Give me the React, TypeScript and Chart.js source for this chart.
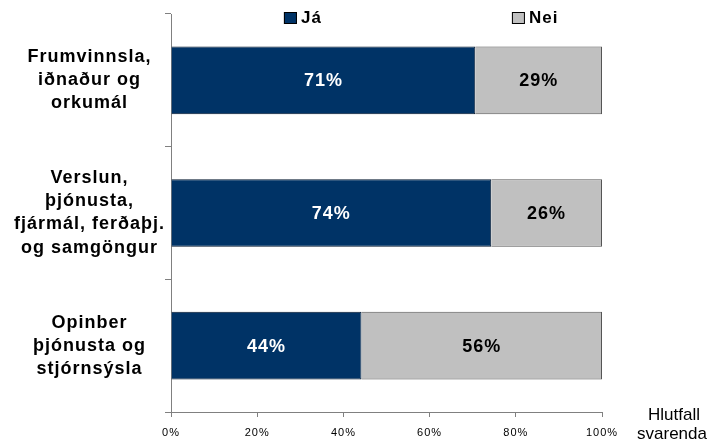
import React, { useEffect, useRef } from "react";
import { Chart, registerables } from "chart.js";

Chart.register(...registerables);

const categories: string[][] = [
  ["Frumvinnsla,", "iðnaður og", "orkumál"],
  ["Verslun,", "þjónusta,", "fjármál, ferðaþj.", "og samgöngur"],
  ["Opinber", "þjónusta og", "stjórnsýsla"],
];
const jaValues: number[] = [70.6, 74.3, 44.2];
const neiValues: number[] = [29.4, 25.7, 55.8];
const seriesNames: string[] = ["Já", "Nei"];
const xTickValues: number[] = [0, 20, 40, 60, 80, 100];
const axisTitleLines: string[] = ["Hlutfall", "svarenda"];

const FONT = "'Liberation Sans', Arial, Helvetica, sans-serif";
const JA_COLOR = "#003366";
const JA_BORDER = "#00152b";
const NEI_COLOR = "#c0c0c0";
const NEI_BORDER = "#555555";
const AXIS_COLOR = "#808080";

const setSpacing = (chart: any) => {
  try {
    (chart.ctx as any).letterSpacing = "1px";
  } catch (e) {
    /* ignore */
  }
};

const customPlugin = {
  id: "customDraw",
  beforeUpdate(chart: any) {
    setSpacing(chart);
  },
  beforeLayout(chart: any) {
    setSpacing(chart);
  },
  beforeDraw(chart: any) {
    setSpacing(chart);
  },
  afterDatasetsDraw(chart: any) {
    const ctx = chart.ctx;
    const area = chart.chartArea;
    // data labels
    ctx.save();
    ctx.font = `bold 18px ${FONT}`;
    ctx.textAlign = "center";
    ctx.textBaseline = "middle";
    chart.data.datasets.forEach((ds: any, di: number) => {
      const meta = chart.getDatasetMeta(di);
      meta.data.forEach((bar: any, i: number) => {
        const v = ds.data[i] as number;
        const left = Math.min(bar.x, bar.base);
        const right = Math.max(bar.x, bar.base);
        ctx.fillStyle = di === 0 ? "#ffffff" : "#000000";
        ctx.fillText(`${Math.round(v)}%`, (left + right) / 2, bar.y + 1);
      });
    });
    ctx.restore();

    // legend
    ctx.save();
    const fracs = [0.262, 0.791];
    ctx.font = `bold 17px ${FONT}`;
    ctx.textBaseline = "middle";
    ctx.textAlign = "left";
    chart.data.datasets.forEach((ds: any, di: number) => {
      const x = area.left + fracs[di] * (area.right - area.left);
      const y = 12;
      ctx.fillStyle = ds.backgroundColor;
      ctx.fillRect(x, y, 13, 12);
      ctx.strokeStyle = "#000000";
      ctx.lineWidth = 1;
      ctx.strokeRect(x + 0.5, y + 0.5, 12, 11);
      ctx.fillStyle = "#000000";
      ctx.fillText(ds.label, x + 17, y + 6.5);
    });
    ctx.restore();

    // axis title at right
    ctx.save();
    ctx.letterSpacing = "0px";
    ctx.font = `17px ${FONT}`;
    ctx.fillStyle = "#000000";
    ctx.textAlign = "center";
    ctx.textBaseline = "middle";
    const cx = area.right + 70;
    axisTitleLines.forEach((line, i) => {
      ctx.fillText(line, cx + (i === 0 ? 2 : 0), area.bottom + 3 + i * 19);
    });
    ctx.restore();
  },
};

export default function App() {
  const ref = useRef<HTMLCanvasElement | null>(null);

  useEffect(() => {
    if (!ref.current) return;
    const chart = new Chart(ref.current, {
      type: "bar",
      data: {
        labels: categories,
        datasets: [
          {
            label: seriesNames[0],
            data: jaValues,
            backgroundColor: JA_COLOR,
            borderColor: JA_BORDER,
            borderWidth: 1,
            categoryPercentage: 1,
            barPercentage: 0.51,
          },
          {
            label: seriesNames[1],
            data: neiValues,
            backgroundColor: NEI_COLOR,
            borderColor: NEI_BORDER,
            borderWidth: 1,
            categoryPercentage: 1,
            barPercentage: 0.51,
          },
        ],
      },
      options: {
        indexAxis: "y",
        responsive: false,
        animation: false,
        layout: { padding: { left: 0, top: 14, right: 105, bottom: 0 } },
        plugins: {
          legend: { display: false },
          tooltip: { enabled: false },
          title: { display: false },
        },
        scales: {
          x: {
            stacked: true,
            min: 0,
            max: 100,
            afterBuildTicks: (axis: any) => {
              axis.ticks = xTickValues.map((v) => ({ value: v }));
            },
            afterFit: (axis: any) => {
              axis.height = 34;
            },
            border: { display: true, color: AXIS_COLOR, width: 1 },
            grid: {
              drawOnChartArea: false,
              drawTicks: true,
              tickLength: 5,
              color: AXIS_COLOR,
            },
            ticks: {
              callback: (v: any) => `${v}%`,
              font: { family: FONT, size: 11 },
              color: "#000000",
              padding: 9,
              maxRotation: 0,
            },
          },
          y: {
            stacked: true,
            afterFit: (axis: any) => {
              axis.width = 171;
              axis.paddingTop = 0;
              axis.paddingBottom = 0;
            },
            border: { display: true, color: AXIS_COLOR, width: 1 },
            grid: {
              offset: true,
              drawOnChartArea: false,
              drawTicks: true,
              tickLength: 6,
              color: AXIS_COLOR,
            },
            ticks: {
              crossAlign: "center",
              padding: 0,
              font: { family: FONT, size: 18, weight: "bold", lineHeight: 1.28 },
              color: "#000000",
            },
          },
        },
      },
      plugins: [customPlugin],
    });
    return () => chart.destroy();
  }, []);

  return (
    <div style={{ position: "fixed", left: 0, top: 0, width: 707, height: 446, background: "#fff" }}>
      <canvas ref={ref} width={707} height={446} style={{ display: "block" }} />
    </div>
  );
}
